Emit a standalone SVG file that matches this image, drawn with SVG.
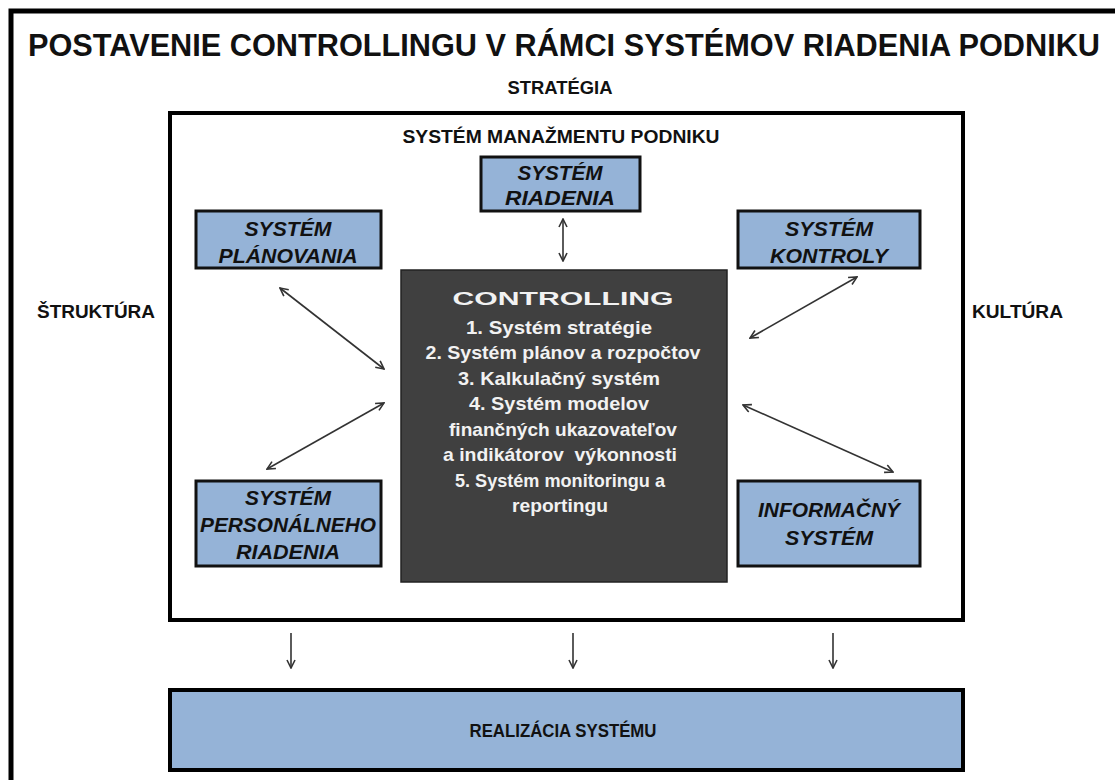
<svg xmlns="http://www.w3.org/2000/svg" width="1115" height="780" viewBox="0 0 1115 780">
<style>
.t{font-family:"Liberation Sans",Arial,sans-serif;font-weight:bold;fill:#111}
.c{font-family:"Liberation Sans",Arial,sans-serif;font-weight:bold;fill:#111;text-anchor:middle}
.bi{font-family:"Liberation Sans",Arial,sans-serif;font-weight:bold;font-style:italic;fill:#111;text-anchor:middle;font-size:20px}
.w{font-family:"Liberation Sans",Arial,sans-serif;font-weight:bold;fill:#f2f2f2;text-anchor:middle;font-size:19px;white-space:pre}
.box{fill:#95b3d7;stroke:#111;stroke-width:3}
.ln{stroke:#333;stroke-width:1.6;fill:none}
</style>
<defs>
<marker id="ah" viewBox="0 0 10 10" refX="9" refY="5" markerWidth="10" markerHeight="10" markerUnits="userSpaceOnUse" orient="auto-start-reverse">
<path d="M1,1 L9,5 L1,9" fill="none" stroke="#333" stroke-width="1.6"/>
</marker>
</defs>
<rect width="1115" height="780" fill="#fff"/>
<rect x="11" y="11" width="1120" height="790" fill="none" stroke="#000" stroke-width="5"/>
<text class="t" x="28" y="56" font-size="31" textLength="1072" lengthAdjust="spacingAndGlyphs">POSTAVENIE CONTROLLINGU V RÁMCI SYSTÉMOV RIADENIA PODNIKU</text>
<text class="c" x="560" y="94" font-size="18" textLength="105" lengthAdjust="spacingAndGlyphs">STRATÉGIA</text>
<text class="t" x="37" y="318" font-size="18" textLength="118" lengthAdjust="spacingAndGlyphs">ŠTRUKTÚRA</text>
<text class="t" x="972" y="318" font-size="18" textLength="91" lengthAdjust="spacingAndGlyphs">KULTÚRA</text>
<g id="manazment">
<rect x="170" y="113" width="793" height="507" fill="#fff" stroke="#000" stroke-width="4"/>
<text class="c" x="561" y="143" font-size="18" textLength="317" lengthAdjust="spacingAndGlyphs">SYSTÉM MANAŽMENTU PODNIKU</text>
</g>
<g id="riadenia">
<rect class="box" x="481" y="157" width="159" height="54"/>
<text class="bi" x="560" y="180" textLength="85" lengthAdjust="spacingAndGlyphs">SYSTÉM</text>
<text class="bi" x="560" y="205" textLength="110" lengthAdjust="spacingAndGlyphs">RIADENIA</text>
</g>
<g id="planovania">
<rect class="box" x="196" y="211" width="185" height="57"/>
<text class="bi" x="288" y="236" textLength="87" lengthAdjust="spacingAndGlyphs">SYSTÉM</text>
<text class="bi" x="288" y="263" textLength="139" lengthAdjust="spacingAndGlyphs">PLÁNOVANIA</text>
</g>
<g id="kontroly">
<rect class="box" x="738" y="211" width="182" height="57"/>
<text class="bi" x="829" y="236" textLength="88" lengthAdjust="spacingAndGlyphs">SYSTÉM</text>
<text class="bi" x="829" y="263" textLength="118" lengthAdjust="spacingAndGlyphs">KONTROLY</text>
</g>
<g id="personalneho">
<rect class="box" x="196" y="481" width="185" height="85"/>
<text class="bi" x="288" y="505" textLength="86" lengthAdjust="spacingAndGlyphs">SYSTÉM</text>
<text class="bi" x="288" y="532" textLength="176" lengthAdjust="spacingAndGlyphs">PERSONÁLNEHO</text>
<text class="bi" x="288" y="559" textLength="104" lengthAdjust="spacingAndGlyphs">RIADENIA</text>
</g>
<g id="informacny">
<rect class="box" x="738" y="481" width="182" height="85"/>
<text class="bi" x="829" y="517" textLength="142" lengthAdjust="spacingAndGlyphs">INFORMAČNÝ</text>
<text class="bi" x="829" y="545" textLength="88" lengthAdjust="spacingAndGlyphs">SYSTÉM</text>
</g>
<g id="controlling">
<rect x="401" y="270" width="326" height="312" fill="#404040" stroke="#222" stroke-width="1.5"/>
<text class="w" x="563" y="305" font-size="26" textLength="221" lengthAdjust="spacingAndGlyphs">CONTROLLING</text>
<text class="w" x="559" y="334" textLength="186" lengthAdjust="spacingAndGlyphs">1. Systém stratégie</text>
<text class="w" x="563" y="359" textLength="275" lengthAdjust="spacingAndGlyphs">2. Systém plánov a rozpočtov</text>
<text class="w" x="559" y="385" textLength="202" lengthAdjust="spacingAndGlyphs">3. Kalkulačný systém</text>
<text class="w" x="559" y="410" textLength="180" lengthAdjust="spacingAndGlyphs">4. Systém modelov</text>
<text class="w" x="563" y="436" textLength="228" lengthAdjust="spacingAndGlyphs">finančných ukazovateľov</text>
<text class="w" x="560" y="461" textLength="234" lengthAdjust="spacingAndGlyphs">a indikátorov  výkonnosti</text>
<text class="w" x="560" y="487" textLength="210" lengthAdjust="spacingAndGlyphs">5. Systém monitoringu a</text>
<text class="w" x="560" y="512" textLength="96" lengthAdjust="spacingAndGlyphs">reportingu</text>
</g>
<g id="realizacia">
<rect x="170" y="690" width="793" height="80" fill="#95b3d7" stroke="#000" stroke-width="4"/>
<text class="c" x="563" y="737" font-size="18" textLength="187" lengthAdjust="spacingAndGlyphs">REALIZÁCIA SYSTÉMU</text>
</g>
<g id="connectors">
<line class="ln" x1="563" y1="219" x2="563" y2="261" marker-start="url(#ah)" marker-end="url(#ah)"/>
<line class="ln" x1="280" y1="288" x2="384" y2="369" marker-start="url(#ah)" marker-end="url(#ah)"/>
<line class="ln" x1="384" y1="403" x2="267" y2="469" marker-start="url(#ah)" marker-end="url(#ah)"/>
<line class="ln" x1="857" y1="277" x2="750" y2="338" marker-start="url(#ah)" marker-end="url(#ah)"/>
<line class="ln" x1="743" y1="405" x2="893" y2="472" marker-start="url(#ah)" marker-end="url(#ah)"/>
<line class="ln" x1="291" y1="633" x2="291" y2="668" marker-end="url(#ah)"/>
<line class="ln" x1="573" y1="633" x2="573" y2="668" marker-end="url(#ah)"/>
<line class="ln" x1="833" y1="633" x2="833" y2="668" marker-end="url(#ah)"/>
</g>
</svg>
